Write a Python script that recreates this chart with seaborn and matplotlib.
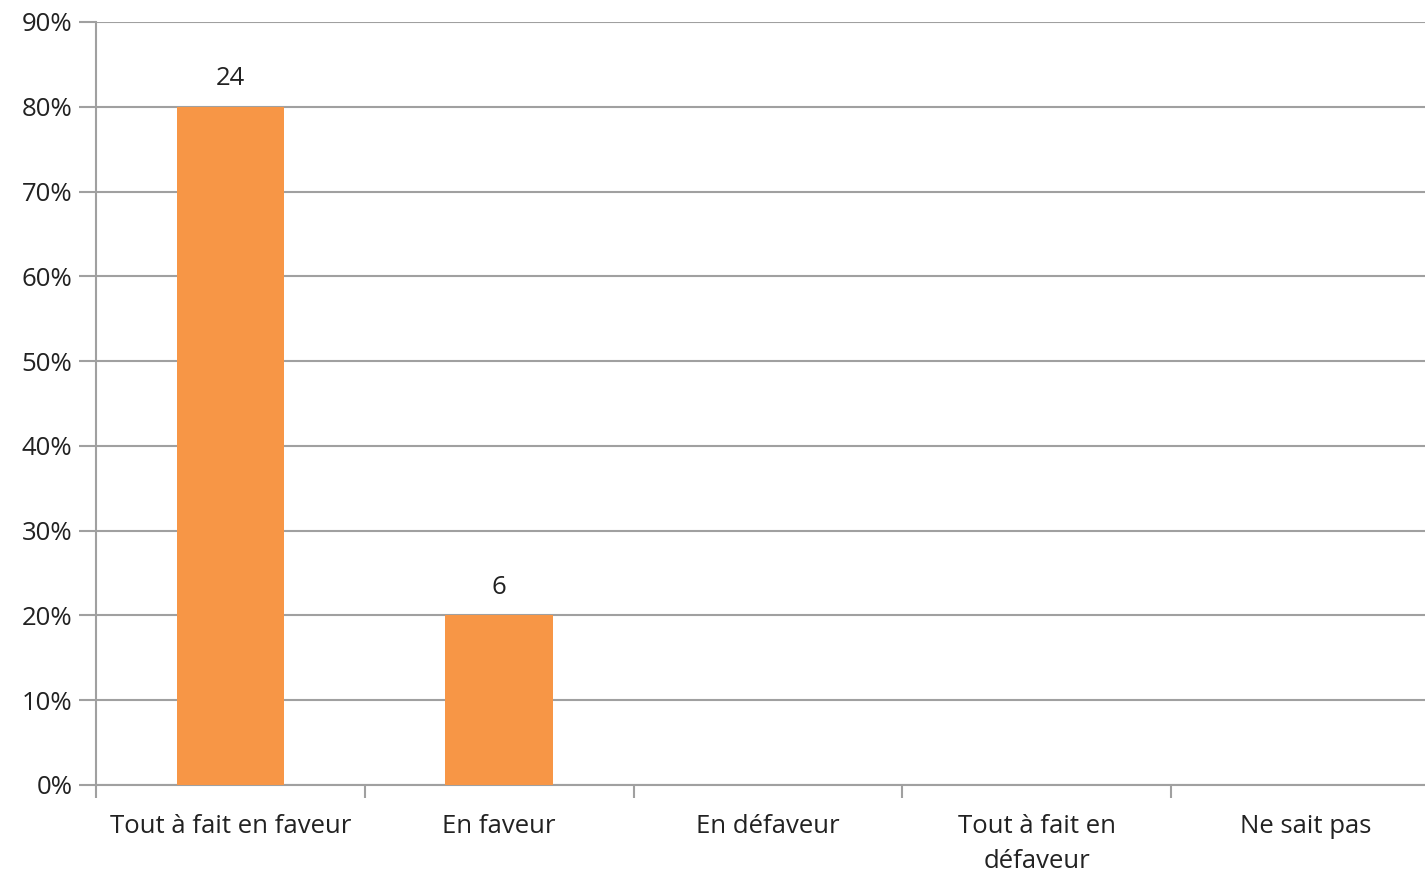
import numpy as np
import pandas as pd
import matplotlib.pyplot as plt
import seaborn as sns
from matplotlib.ticker import FixedLocator, PercentFormatter

# Survey answers (counts) and their shares
categories = ["Tout à fait en faveur", "En faveur", "En défaveur",
              "Tout à fait en\ndéfaveur", "Ne sait pas"]
counts = [24, 6, 0, 0, 0]

df = pd.DataFrame({"answer": categories, "count": counts})
df["share"] = df["count"] / df["count"].sum()

sns.set_theme(style="white")
plt.rcParams['font.family'] = ['Open Sans', 'DejaVu Sans']

fig = plt.figure(figsize=(14.25, 8.74), dpi=100)
ax = fig.add_axes([96 / 1425, 1 - 785 / 874, 1344 / 1425, 763 / 874])

sns.barplot(data=df, x="answer", y="share", color="#F79646", width=0.4,
            saturation=1, linewidth=0, ax=ax, zorder=3)

ax.set_ylim(0, 0.9)
ax.set_xlim(-0.5, len(categories) - 0.5)
ax.set_yticks(np.arange(0, 0.91, 0.1))
ax.yaxis.set_major_formatter(PercentFormatter(1.0, decimals=0))
ax.grid(axis="y", color="#a0a0a0", linewidth=1.5, zorder=0)

# tick marks between categories, labels centred
ax.xaxis.set_minor_locator(FixedLocator(np.arange(-0.5, len(categories), 1)))
ax.tick_params(axis="x", which="major", length=0, pad=21, labelsize=18.5, colors="#222222")
ax.tick_params(axis="x", which="minor", length=9, width=1.5, color="#a0a0a0", direction="out")
ax.tick_params(axis="y", length=12, width=1.5, color="#a0a0a0", labelsize=18.5,
               pad=5, direction="out")
ax.tick_params(axis="x", which="minor", bottom=True)
ax.tick_params(axis="y", left=True)
for lab in ax.get_yticklabels():
    lab.set_color("#222222")
for lab in ax.get_xticklabels():
    lab.set_linespacing(1.5)

for side in ["top", "right"]:
    ax.spines[side].set_visible(False)
for side in ["left", "bottom"]:
    ax.spines[side].set_color("#a0a0a0")
    ax.spines[side].set_linewidth(1.5)

ax.set_xlabel("")
ax.set_ylabel("")

# value labels (counts) above non-empty bars
for i, (c, s) in enumerate(zip(df["count"], df["share"])):
    if c > 0:
        ax.annotate(str(c), (i, s), xytext=(0, 11), textcoords="offset points",
                    ha="center", va="bottom", fontsize=18.5, color="#222222")

fig.savefig("out.png", dpi=100)
